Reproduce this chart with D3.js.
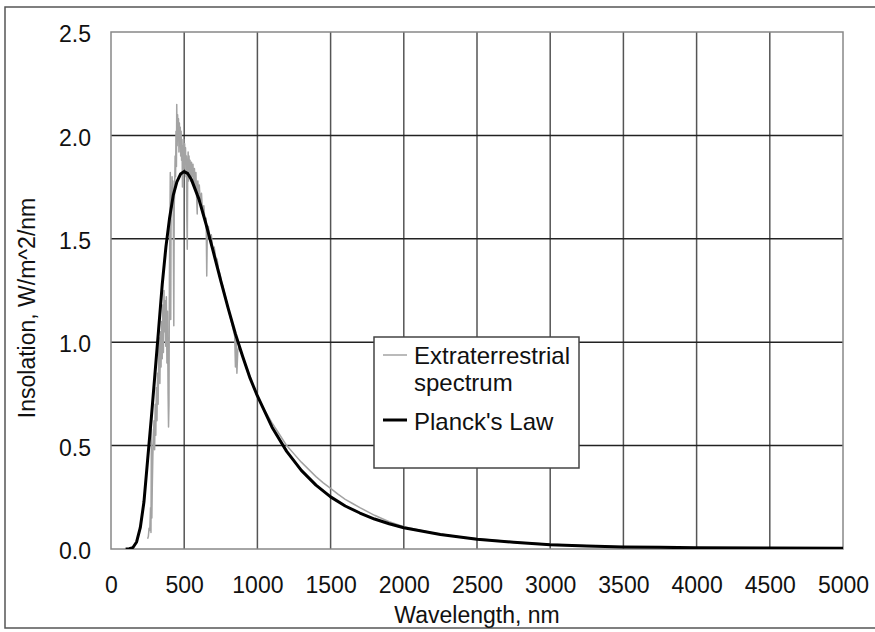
<!DOCTYPE html>
<html>
<head>
<meta charset="utf-8">
<script src="https://cdn.jsdelivr.net/npm/d3@7"></script>
<style>
  html, body { margin: 0; padding: 0; background: #fff; }
  svg { display: block; }
  text { font-family: "Liberation Sans", Arial, sans-serif; fill: #111; }
</style>
</head>
<body>
<svg id="chart" width="875" height="632"></svg>
<script>
// ---- data ----
const xTicks = [0, 500, 1000, 1500, 2000, 2500, 3000, 3500, 4000, 4500, 5000];
const yTicks = [0.0, 0.5, 1.0, 1.5, 2.0, 2.5];
const xTitle = "Wavelength, nm";
const yTitle = "Insolation, W/m^2/nm";
const legendLabels = [["Extraterrestrial", "spectrum"], ["Planck's Law"]];

const planckWavelength = [100,125,150,175,200,225,250,275,300,325,350,375,400,425,450,475,500,525,550,600,650,700,750,800,850,900,950,1000,1100,1200,1300,1400,1500,1600,1700,1800,1900,2000,2250,2500,2750,3000,3250,3500,3750,4000,4500,5000];
const planckValue = [0,0.001,0.007,0.034,0.103,0.227,0.43,0.63,0.845,1.06,1.28,1.46,1.60,1.71,1.775,1.813,1.825,1.815,1.785,1.693,1.569,1.434,1.296,1.165,1.040,0.930,0.826,0.740,0.589,0.472,0.380,0.309,0.252,0.208,0.174,0.145,0.122,0.103,0.070,0.047,0.033,0.021,0.015,0.010,0.008,0.006,0.005,0.004];

const spectrumWavelength = [250,255,260,265,270,273,276,279,282,286,290,294,298,302,306,310,314,318,322,326,330,334,338,342,346,350,354,358,362,366,370,374,378,382,386,390,393,396,399,402,405,408,411,414,417,420,423,426,429,432,435,438,441,444,447,449,452,455,458,461,464,467,470,473,476,479,482,485,488,491,494,497,500,503,506,509,512,515,518,521,524,527,530,533,536,540,545,550,555,560,565,570,575,580,585,589,593,598,603,610,618,626,634,642,650,654,658,665,675,685,695,705,715,725,735,745,755,765,775,785,795,805,815,825,835,845,850,855,860,866,872,880,890,900,925,950,975,1000,1050,1100,1150,1200,1250,1300,1350,1400,1450,1500,1550,1600,1650,1700,1800,1900,2000,2200,2400,2600,2800,3000,3200,3400,3600,3800,4000];
const spectrumValue = [0.05,0.06,0.10,0.09,0.20,0.08,0.58,0.15,0.30,0.45,0.55,0.62,0.48,0.70,0.55,0.78,0.62,0.85,0.70,0.95,1.02,0.80,1.05,0.88,1.10,0.92,1.18,0.95,1.25,1.05,1.20,0.98,1.22,0.90,1.15,0.75,0.59,0.70,1.30,1.55,1.82,1.11,1.75,1.65,1.80,1.70,1.78,1.55,1.08,1.66,1.75,1.90,1.80,2.02,1.85,2.15,1.95,2.10,1.98,2.08,1.92,2.06,1.95,2.04,1.90,2.02,1.88,1.98,1.75,1.95,1.85,1.98,1.84,1.96,1.86,1.94,1.80,1.90,1.60,1.45,1.85,1.92,1.78,1.90,1.82,1.88,1.78,1.87,1.80,1.86,1.76,1.84,1.74,1.82,1.70,1.62,1.78,1.72,1.76,1.68,1.72,1.62,1.66,1.58,1.60,1.32,1.55,1.56,1.50,1.52,1.45,1.46,1.41,1.40,1.35,1.33,1.29,1.27,1.24,1.21,1.18,1.15,1.12,1.09,1.06,1.03,0.88,1.01,0.85,0.96,0.98,0.96,0.95,0.93,0.88,0.83,0.78,0.74,0.67,0.61,0.555,0.50,0.46,0.42,0.385,0.35,0.32,0.293,0.265,0.24,0.22,0.20,0.163,0.132,0.108,0.078,0.057,0.043,0.032,0.023,0.017,0.012,0.009,0.007,0.005];

// ---- layout ----
const svg = d3.select("#chart");
const plot = { left: 111, right: 843, top: 32, bottom: 549 };

const x = d3.scaleLinear().domain([0, 5000]).range([plot.left, plot.right]);
const y = d3.scaleLinear().domain([0, 2.5]).range([plot.bottom, plot.top]);

// outer frame
svg.append("rect")
  .attr("x", 5).attr("y", 7).attr("width", 890).attr("height", 621)
  .attr("fill", "none").attr("stroke", "#555").attr("stroke-width", 1.5);

// gridlines
svg.append("g").selectAll("line").data(xTicks.slice(1, -1)).join("line")
  .attr("x1", d => x(d)).attr("x2", d => x(d))
  .attr("y1", plot.top).attr("y2", plot.bottom)
  .attr("stroke", "#555").attr("stroke-width", 1.5);
svg.append("g").selectAll("line").data(yTicks.slice(1, -1)).join("line")
  .attr("x1", plot.left).attr("x2", plot.right)
  .attr("y1", d => y(d)).attr("y2", d => y(d))
  .attr("stroke", "#222").attr("stroke-width", 1.5);

// plot border
svg.append("rect")
  .attr("x", plot.left).attr("y", plot.top)
  .attr("width", plot.right - plot.left).attr("height", plot.bottom - plot.top)
  .attr("fill", "none").attr("stroke", "#888").attr("stroke-width", 1.5);

// clip
svg.append("clipPath").attr("id", "clip").append("rect")
  .attr("x", plot.left).attr("y", plot.top - 2)
  .attr("width", plot.right - plot.left).attr("height", plot.bottom - plot.top + 2);

const line = d3.line().x(d => x(d[0])).y(d => y(d[1]));

const spectrum = spectrumWavelength.map((w, i) => [w, spectrumValue[i]]);
const planck = planckWavelength.map((w, i) => [w, planckValue[i]]);

svg.append("path").datum(spectrum)
  .attr("clip-path", "url(#clip)")
  .attr("d", line).attr("fill", "none")
  .attr("stroke", "#a3a3a3").attr("stroke-width", 1.5).attr("stroke-linejoin", "round");

svg.append("path").datum(planck)
  .attr("clip-path", "url(#clip)")
  .attr("d", line).attr("fill", "none")
  .attr("stroke", "#000").attr("stroke-width", 3).attr("stroke-linejoin", "round");

// axes (labels only, via d3 axes)
const fs = 23;
const yAxis = svg.append("g").attr("transform", `translate(${plot.left},0)`)
  .call(d3.axisLeft(y).tickValues(yTicks).tickFormat(d3.format(".1f")).tickSize(0).tickPadding(20));
yAxis.select(".domain").remove();
yAxis.selectAll("text").attr("font-size", fs).attr("fill", "#111")
  .attr("font-family", '"Liberation Sans", Arial, sans-serif').attr("dy", "0.42em");

const xAxis = svg.append("g").attr("transform", `translate(0,${plot.bottom})`)
  .call(d3.axisBottom(x).tickValues(xTicks).tickFormat(d3.format("d")).tickSize(0).tickPadding(28));
xAxis.select(".domain").remove();
xAxis.selectAll("text").attr("font-size", fs).attr("fill", "#111")
  .attr("font-family", '"Liberation Sans", Arial, sans-serif').attr("dy", "0.71em");

// axis titles
svg.append("text").attr("x", (plot.left + plot.right) / 2).attr("y", 623)
  .attr("text-anchor", "middle").attr("font-size", fs).text(xTitle);
svg.append("text").attr("transform", "translate(34.5,308) rotate(-90)")
  .attr("text-anchor", "middle").attr("font-size", fs).text(yTitle);

// legend
const lg = svg.append("g");
lg.append("rect").attr("x", 374).attr("y", 337).attr("width", 205).attr("height", 131)
  .attr("fill", "#fff").attr("stroke", "#444").attr("stroke-width", 1.5);
lg.append("line").attr("x1", 383).attr("x2", 407).attr("y1", 355).attr("y2", 355)
  .attr("stroke", "#a3a3a3").attr("stroke-width", 1.5);
lg.append("text").attr("x", 414).attr("y", 364).attr("font-size", 24).text(legendLabels[0][0]);
lg.append("text").attr("x", 414).attr("y", 391).attr("font-size", 24).text(legendLabels[0][1]);
lg.append("line").attr("x1", 383).attr("x2", 407).attr("y1", 420).attr("y2", 420)
  .attr("stroke", "#000").attr("stroke-width", 3);
lg.append("text").attr("x", 414).attr("y", 430).attr("font-size", 24).text(legendLabels[1][0]);
</script>
</body>
</html>
